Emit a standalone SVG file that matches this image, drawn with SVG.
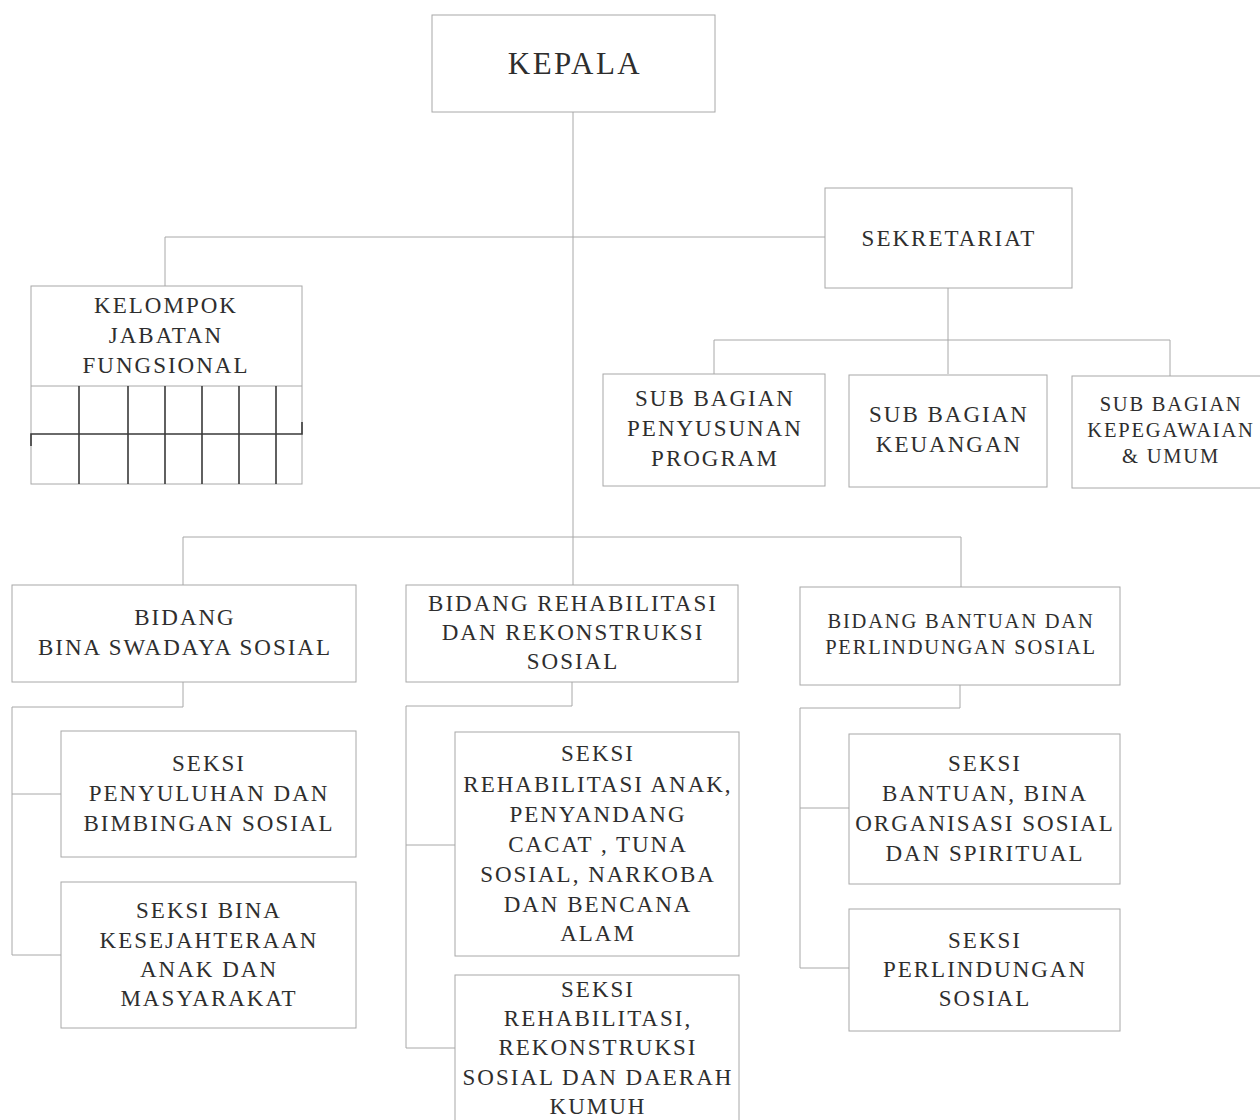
<svg xmlns="http://www.w3.org/2000/svg" width="1260" height="1120" viewBox="0 0 1260 1120">
<style>
.box{fill:#ffffff;stroke:#a8a8a8;stroke-width:1}
.ln{fill:none;stroke:#a8a8a8;stroke-width:1}
.dk{fill:none;stroke:#3a3a3a;stroke-width:1.6}
text{font-family:"Liberation Serif","DejaVu Serif",serif;fill:#2e2e2e;text-anchor:middle;dominant-baseline:central;font-size:23px;letter-spacing:2px}
.big{font-size:31px;letter-spacing:2.5px}
.sm{font-size:20.5px;letter-spacing:1.8px}
</style>
<rect width="1260" height="1120" fill="#ffffff"/>
<g id="connectors">
<path class="ln" d="M573 112 V537"/>
<path class="ln" d="M165 287 V237 H825"/>
<path class="ln" d="M948 288 V374 M714 374 V340 H1170 V376"/>
<path class="ln" d="M183 585 V537 H961 V587 M573 537 V585"/>
<path class="ln" d="M183 682 V707 H12 V955 H61 M12 794 H61"/>
<path class="ln" d="M572 682 V706 H406 V1048 H455 M406 845 H455"/>
<path class="ln" d="M960 685 V708 H800 V968 H849 M800 808 H849"/>
</g>
<g id="kepala"><rect class="box" x="432" y="15" width="283" height="97"/><text class="big" x="575" y="63">KEPALA</text></g>
<g id="sekretariat"><rect class="box" x="825" y="188" width="247" height="100"/><text x="949" y="238">SEKRETARIAT</text></g>
<g id="kelompok">
<rect class="box" x="31" y="286" width="271" height="198"/>
<path class="ln" d="M31 386 H302"/>
<text x="166" y="305">KELOMPOK</text><text x="166" y="335">JABATAN</text><text x="166" y="365">FUNGSIONAL</text>
<path class="dk" d="M31 446 V434 H302 V422 M79 386 V484 M128 386 V484 M165 386 V484 M202 386 V484 M239 386 V484 M276 386 V484"/>
</g>
<g id="sub-penyusunan"><rect class="box" x="603" y="374" width="222" height="112"/><text x="715" y="398">SUB BAGIAN</text><text x="715" y="428">PENYUSUNAN</text><text x="715" y="458">PROGRAM</text></g>
<g id="sub-keuangan"><rect class="box" x="849" y="375" width="198" height="112"/><text x="949" y="414">SUB BAGIAN</text><text x="949" y="444">KEUANGAN</text></g>
<g id="sub-kepegawaian"><rect class="box" x="1072" y="376" width="200" height="112"/><text class="sm" x="1171" y="404">SUB BAGIAN</text><text class="sm" x="1171" y="430">KEPEGAWAIAN</text><text class="sm" x="1171" y="456">&amp; UMUM</text></g>
<g id="bidang-bina"><rect class="box" x="12" y="585" width="344" height="97"/><text x="185" y="617">BIDANG</text><text x="185" y="647">BINA SWADAYA SOSIAL</text></g>
<g id="bidang-rehab"><rect class="box" x="406" y="585" width="332" height="97"/><text x="573" y="603">BIDANG REHABILITASI</text><text x="573" y="632">DAN REKONSTRUKSI</text><text x="573" y="661">SOSIAL</text></g>
<g id="bidang-bantuan"><rect class="box" x="800" y="587" width="320" height="98"/><text class="sm" x="961" y="621">BIDANG BANTUAN DAN</text><text class="sm" x="961" y="647">PERLINDUNGAN  SOSIAL</text></g>
<g id="seksi-penyuluhan"><rect class="box" x="61" y="731" width="295" height="126"/><text x="209" y="763">SEKSI</text><text x="209" y="793">PENYULUHAN DAN</text><text x="209" y="823">BIMBINGAN SOSIAL</text></g>
<g id="seksi-kesejahteraan"><rect class="box" x="61" y="882" width="295" height="146"/><text x="209" y="910">SEKSI BINA</text><text x="209" y="940">KESEJAHTERAAN</text><text x="209" y="969">ANAK DAN</text><text x="209" y="998">MASYARAKAT</text></g>
<g id="seksi-rehab-anak"><rect class="box" x="455" y="732" width="284" height="224"/><text x="598" y="753">SEKSI</text><text x="598" y="784">REHABILITASI ANAK,</text><text x="598" y="814">PENYANDANG</text><text x="598" y="844">CACAT , TUNA</text><text x="598" y="874">SOSIAL, NARKOBA</text><text x="598" y="904">DAN BENCANA</text><text x="598" y="933">ALAM</text></g>
<g id="seksi-rehab-rekon"><rect class="box" x="455" y="975" width="284" height="160"/><text x="598" y="989">SEKSI</text><text x="598" y="1018">REHABILITASI,</text><text x="598" y="1047">REKONSTRUKSI</text><text x="598" y="1077">SOSIAL DAN DAERAH</text><text x="598" y="1106">KUMUH</text></g>
<g id="seksi-bantuan"><rect class="box" x="849" y="734" width="271" height="150"/><text x="985" y="763">SEKSI</text><text x="985" y="793">BANTUAN, BINA</text><text x="985" y="823">ORGANISASI SOSIAL</text><text x="985" y="853">DAN SPIRITUAL</text></g>
<g id="seksi-perlindungan"><rect class="box" x="849" y="909" width="271" height="122"/><text x="985" y="940">SEKSI</text><text x="985" y="969">PERLINDUNGAN</text><text x="985" y="998">SOSIAL</text></g>
</svg>
